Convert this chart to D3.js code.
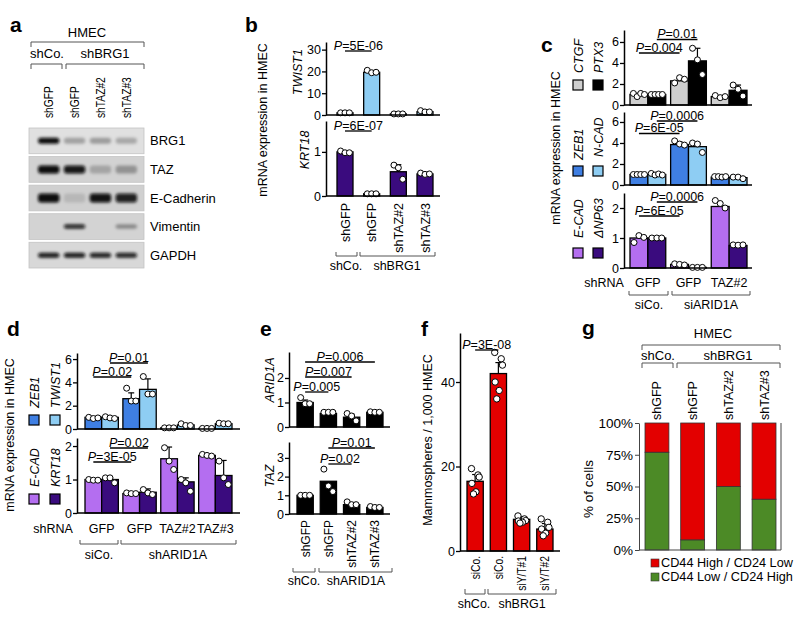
<!DOCTYPE html>
<html><head><meta charset="utf-8">
<script src="https://cdn.jsdelivr.net/npm/d3@7"></script>
<style>
body{margin:0;background:#fff;}
svg text{font-family:"Liberation Sans",Arial,Helvetica,sans-serif;}
</style></head><body>
<svg id="fig" width="800" height="635"></svg>
<script>
// ================= DATA =================
// Panel a (western blot)
const aLanes = ["shGFP","shGFP","shTAZ#2","shTAZ#3"];
const aProteins = ["BRG1","TAZ","E-Cadherin","Vimentin","GAPDH"];
const aBandIntensity = [
  [1.0,0.28,0.3,0.25],
  [1.0,0.95,0.22,0.3],
  [1.0,0.12,0.97,0.9],
  [0.0,0.85,0.0,0.35],
  [0.92,0.92,0.9,0.88]
];
// Panel b
const bLanes = ["shGFP","shGFP","shTAZ#2","shTAZ#3"];
const bTWIST1 = [1.0,19.6,0.5,1.5];
const bTWIST1sd = [0.1,0.6,0.1,0.4];
const bTWIST1dots = [[1.0,1.0,1.0],[20.5,19.4,19.6],[0.5,0.5,0.5],[2.0,1.4,1.4]];
const bKRT18 = [1.0,0.05,0.55,0.5];
const bKRT18sd = [0.02,0.01,0.16,0.02];
const bKRT18dots = [[1.02,0.98,0.98],[0.05,0.05,0.05],[0.7,0.64,0.38],[0.52,0.49,0.5]];
// Panel c
const cGroups = ["GFP","GFP","TAZ#2"];
const cCTGF = [1.0,2.3,0.8];      const cCTGFsd = [0.12,0.2,0.08];
const cCTGFdots = [[1.1,0.8,1.1,1.0],[2.1,2.6,2.45],[0.9,0.7,0.8]];
const cPTX3 = [1.0,4.2,1.4];      const cPTX3sd = [0.05,1.2,0.5];
const cPTX3dots = [[1.0,1.0,1.0,1.0],[5.4,4.3,2.9],[1.9,1.5,0.85]];
const cZEB1 = [1.0,3.85,0.75];    const cZEB1sd = [0.05,0.25,0.04];
const cZEB1dots = [[1.0,1.0,1.0,1.0],[4.2,3.9,3.8],[0.8,0.8,0.75,0.8]];
const cNCAD = [1.0,3.65,0.7];     const cNCADsd = [0.06,0.35,0.05];
const cNCADdots = [[1.1,0.95,1.05,0.95],[4.0,3.9,3.1],[0.75,0.75,0.6]];
const cECAD = [1.0,0.12,2.05];    const cECADsd = [0.1,0.02,0.12];
const cECADdots = [[0.85,1.08,1.02],[0.14,0.12,0.1],[2.25,2.15,2.0]];
const cDNP63 = [1.0,0.02,0.75];   const cDNP63sd = [0.01,0,0.02];
const cDNP63dots = [[1.0,1.0,1.0],[0.02,0.02,0.02],[0.77,0.76,0.77]];
// Panel d
const dGroups = ["GFP","GFP","TAZ#2","TAZ#3"];
const dZEB1 = [1.0,2.6,0.1,0.05];     const dZEB1sd = [0.05,0.5,0.01,0.01];
const dZEB1dots = [[1.0,0.9,0.95],[3.5,2.4,2.4],[0.1,0.1,0.1],[0.05,0.05,0.05]];
const dTWIST1 = [1.0,3.4,0.35,0.45];  const dTWIST1sd = [0.05,0.9,0.1,0.05];
const dTWIST1dots = [[1.05,0.95,0.9],[4.5,3.0,3.0],[0.45,0.3,0.3],[0.5,0.45,0.45]];
const dECAD = [1.0,0.58,1.62,1.72];   const dECADsd = [0.02,0.02,0.35,0.04];
const dECADdots = [[1.0,0.98,0.98],[0.6,0.58,0.58],[1.95,1.55,1.3],[1.75,1.72,1.7]];
const dKRT18 = [1.0,0.62,0.93,1.12];  const dKRT18sd = [0.05,0.1,0.12,0.45];
const dKRT18dots = [[1.05,1.05,0.9],[0.7,0.6,0.55],[1.0,0.9,0.65],[1.55,1.05,0.85]];
// Panel e
const eLanes = ["shGFP","shGFP","shTAZ#2","shTAZ#3"];
const eARID1A = [1.0,0.55,0.4,0.6];   const eARID1Asd = [0.1,0.02,0.12,0.02];
const eARID1Adots = [[1.2,0.95,0.95],[0.6,0.6,0.6],[0.55,0.45,0.25],[0.62,0.6,0.6]];
const eTAZ = [1.0,1.75,0.5,0.35];     const eTAZsd = [0,0,0,0];
const eTAZdots = [[1.0,1.0,1.0],[2.4,1.5,1.2],[0.65,0.5,0.5],[0.4,0.35,0.35]];
// Panel f
const fLanes = ["siCo.","siCo.","siY/T#1","siY/T#2"];
const fVals = [16.5,42,7.5,5.2];
const fSd = [1.6,2.6,0.6,1.3];
const fDots = [[19.5,18,17.5,16,14,13.5],[47,45.5,44,40,38,36],[8.3,7.6,7.2,7.1,6.8,6.6],[7.6,6.8,5.6,5.2,4.2,3.6]];
// Panel g
const gLanes = ["shGFP","shGFP","shTAZ#2","shTAZ#3"];
const gLowHigh = [77,8,50,40];   // CD44 Low / CD24 High (%)
const gHighLow = [23,92,50,60];  // CD44 High / CD24 Low (%)
const gTicks = [0,25,50,75,100];

// ================= HELPERS =================
const FS = 12.5;
const svg = d3.select("#fig");
svg.append("rect").attr("width",800).attr("height",635).attr("fill","#fff");
const defs = svg.append("defs");
defs.append("filter").attr("id","blur").attr("x","-50%").attr("y","-150%").attr("width","200%").attr("height","400%")
  .append("feGaussianBlur").attr("stdDeviation",1.5);

function txt(g,x,y,s,o={}){
  const t=g.append("text").attr("x",x).attr("y",y).text(s)
    .attr("font-size",o.size||FS).attr("text-anchor",o.anchor||"start").attr("fill",o.fill||"#000");
  if(o.italic) t.attr("font-style","italic");
  if(o.bold) t.attr("font-weight","bold");
  if(o.rot) t.attr("transform",`rotate(-90,${x},${y})`);
  if(o.squeeze){
    const L=t.node().getComputedTextLength();
    t.attr("textLength",L*o.squeeze).attr("lengthAdjust","spacingAndGlyphs");
  }
  return t;
}
function bracket(g,x1,x2,y,h){
  g.append("path").attr("d",`M${x1},${y+h}V${y}H${x2}V${y+h}`).attr("fill","none").attr("stroke","#555").attr("stroke-width",1);
}
function pval(g,x1,x2,y,label){
  g.append("line").attr("x1",x1).attr("x2",x2).attr("y1",y).attr("y2",y).attr("stroke","#000").attr("stroke-width",1.3);
  const t=g.append("text").attr("x",(x1+x2)/2).attr("y",y-1.2).attr("text-anchor","middle").attr("font-size",FS);
  t.append("tspan").attr("font-style","italic").text("P");
  t.append("tspan").text("="+label);
}
function dotOffsets(n,w){
  const pats={1:[0],2:[-0.4,0.4],3:[-0.55,0,0.55],4:[-0.62,-0.2,0.2,0.62],6:[-0.45,0.35,0.5,-0.4,0.1,-0.2]};
  return (pats[n]||d3.range(n).map(i=>-0.6+1.2*i/(n-1))).map(f=>f*w/2);
}
function styleAxis(ax){
  ax.attr("font-family",null).attr("font-size",null);
  ax.select(".domain").attr("stroke-width",1.5);
  ax.selectAll(".tick line").attr("stroke-width",1.3);
  ax.selectAll(".tick text").attr("font-size",FS).attr("fill","#000");
}
function barSub(g,o){
  const ns=o.series.length;
  const sub=d3.scaleBand().domain(d3.range(ns)).range([0,o.xBand.bandwidth()]);
  const bw=sub.bandwidth();
  const cx=(i,si)=>o.xBand(i)+sub(si)+bw/2;
  o.series.forEach((s,si)=>{
    const gs=g.append("g");
    gs.selectAll("rect").data(s.values).join("rect")
      .attr("x",(d,i)=>o.xBand(i)+sub(si)).attr("width",bw)
      .attr("y",d=>o.y(d)).attr("height",d=>Math.max(0,o.y(0)-o.y(d)))
      .attr("fill",s.color).attr("stroke","#000").attr("stroke-width",1.3);
    if(s.sd) s.values.forEach((v,i)=>{
      const sd=s.sd[i]; if(!sd) return;
      const x=cx(i,si),y1=o.y(v),y2=o.y(v+sd);
      gs.append("line").attr("x1",x).attr("x2",x).attr("y1",y1).attr("y2",y2).attr("stroke","#000").attr("stroke-width",1.2);
      gs.append("line").attr("x1",x-3).attr("x2",x+3).attr("y1",y2).attr("y2",y2).attr("stroke","#000").attr("stroke-width",1.2);
    });
    if(s.dots) s.dots.forEach((arr,i)=>{
      const offs=dotOffsets(arr.length,bw);
      gs.append("g").selectAll("circle").data(arr).join("circle")
        .attr("cx",(d,k)=>cx(i,si)+offs[k]).attr("cy",d=>o.y(d)).attr("r",o.r||3)
        .attr("fill","#fff").attr("stroke","#000").attr("stroke-width",1);
    });
  });
  const ax=g.append("g").attr("transform",`translate(${o.axisX},0)`)
    .call(d3.axisLeft(o.y).tickValues(o.ticks).tickSize(4).tickSizeOuter(0).tickPadding(1).tickFormat(o.fmt||(d=>d)));
  styleAxis(ax);
  g.append("line").attr("x1",o.axisX).attr("x2",o.axisEnd).attr("y1",o.y(0)).attr("y2",o.y(0)).attr("stroke","#000").attr("stroke-width",1.5);
  return cx;
}
function legendSq(g,x,y,color){
  g.append("rect").attr("x",x).attr("y",y).attr("width",10).attr("height",10).attr("fill",color).attr("stroke","#000").attr("stroke-width",1.2);
}
const COL={ltblue:"#8ecdf3",blue:"#3f7fe3",purple:"#b46ef0",indigo:"#3a0b7e",grey:"#cfcfcf",red:"#e30000",green:"#4c8a26"};

// ================= PANEL A =================
(function(){
  const g=svg.append("g");
  txt(g,10,32,"a",{size:21,bold:true});
  txt(g,87,37,"HMEC",{anchor:"middle",size:13});
  bracket(g,31,144,42,5);
  txt(g,47,58,"shCo.",{anchor:"middle",size:13});
  txt(g,105,58,"shBRG1",{anchor:"middle",size:13});
  bracket(g,31,62,64,5); bracket(g,66,144,64,5);
  const x=d3.scaleBand().domain(d3.range(aLanes.length)).range([39,136]).paddingInner(0.25);
  aLanes.forEach((l,i)=>txt(g,x(i)+x.bandwidth()/2+4.5,118,l,{rot:true,size:12.5,squeeze:0.82}));
  const rows=d3.scaleBand().domain(d3.range(aProteins.length)).range([128,268]).paddingInner(0.1);
  const rowBg=["#e0e0e0","#d2d2d2","#d0d0d0","#d3d3d3","#d8d8d8"];
  const bandH=[6,8,9,4.5,5];
  aProteins.forEach((p,r)=>{
    g.append("rect").attr("x",29).attr("y",rows(r)).attr("width",115).attr("height",rows.bandwidth())
      .attr("fill",rowBg[r]).attr("stroke","#c4c4c4").attr("stroke-width",0.8);
    const cy=rows(r)+rows.bandwidth()/2;
    g.append("g").attr("filter","url(#blur)").selectAll("rect").data(aBandIntensity[r]).join("rect")
      .attr("x",(d,i)=>x(i)-1).attr("width",x.bandwidth()+2)
      .attr("y",cy-bandH[r]/2).attr("height",bandH[r]).attr("rx",3)
      .attr("fill","#0a0a0a").attr("fill-opacity",d=>d);
    txt(g,150,cy+4.5,p,{size:13});
  });
})();

// ================= PANEL B =================
(function(){
  const g=svg.append("g");
  txt(g,245,32,"b",{size:21,bold:true});
  txt(g,267,120,"mRNA expression in HMEC",{rot:true,anchor:"middle"});
  const x=d3.scaleBand().domain(d3.range(bLanes.length)).range([337,433]).paddingInner(0.4);
  const y1=d3.scaleLinear().domain([0,33.5]).range([115,42]);
  const cx=barSub(g,{xBand:x,y:y1,axisX:326,axisEnd:440,ticks:[0,10,20,30],
    series:[{values:bTWIST1,sd:bTWIST1sd,dots:bTWIST1dots,color:COL.ltblue}]});
  const y2=d3.scaleLinear().domain([0,1.7]).range([196,121]);
  barSub(g,{xBand:x,y:y2,axisX:326,axisEnd:440,ticks:[0,1],
    series:[{values:bKRT18,sd:bKRT18sd,dots:bKRT18dots,color:COL.indigo}]});
  txt(g,302,72,"TWIST1",{rot:true,anchor:"middle",italic:true});
  txt(g,309,150,"KRT18",{rot:true,anchor:"middle",italic:true});
  pval(g,cx(0,0),cx(1,0),51,"5E-06");
  pval(g,cx(0,0),cx(1,0),131,"6E-07");
  bLanes.forEach((l,i)=>txt(g,cx(i,0)+4.5,203,l,{rot:true,anchor:"end"}));
  bracket(g,336,357,256,-4); bracket(g,360,435,256,-4);
  txt(g,346,270,"shCo.",{anchor:"middle"});
  txt(g,397,270,"shBRG1",{anchor:"middle"});
})();

// ================= PANEL C =================
(function(){
  const g=svg.append("g");
  txt(g,541,52,"c",{size:21,bold:true});
  txt(g,560,148,"mRNA expression in HMEC",{rot:true,anchor:"middle"});
  const x=d3.scaleBand().domain(d3.range(cGroups.length)).range([630,747]).paddingInner(0.12);
  const y1=d3.scaleLinear().domain([0,7.14]).range([105,30]);
  const cx=barSub(g,{xBand:x,y:y1,axisX:624,axisEnd:752,ticks:[0,2,4,6],
    series:[{values:cCTGF,sd:cCTGFsd,dots:cCTGFdots,color:COL.grey},{values:cPTX3,sd:cPTX3sd,dots:cPTX3dots,color:"#000"}]});
  const y2=d3.scaleLinear().domain([0,6.95]).range([185,112]);
  barSub(g,{xBand:x,y:y2,axisX:624,axisEnd:752,ticks:[0,2,4,6],
    series:[{values:cZEB1,sd:cZEB1sd,dots:cZEB1dots,color:COL.blue},{values:cNCAD,sd:cNCADsd,dots:cNCADdots,color:COL.ltblue}]});
  const y3=d3.scaleLinear().domain([0,2.5]).range([268,193]);
  barSub(g,{xBand:x,y:y3,axisX:624,axisEnd:752,ticks:[0,1,2],
    series:[{values:cECAD,sd:cECADsd,dots:cECADdots,color:COL.purple},{values:cDNP63,sd:cDNP63sd,dots:cDNP63dots,color:COL.indigo}]});
  pval(g,cx(0,1),cx(1,1),39.5,"0.01"); pval(g,cx(0,0),cx(1,0),53,"0.004");
  pval(g,cx(0,1),cx(1,1),121,"0.0006"); pval(g,cx(0,0),cx(1,0),133.5,"6E-05");
  pval(g,cx(0,1),cx(1,1),202,"0.0006"); pval(g,cx(0,0),cx(1,0),216,"6E-05");
  // legends
  legendSq(g,573,80,COL.grey); legendSq(g,593,80,"#000");
  txt(g,583,73,"CTGF",{rot:true,italic:true}); txt(g,603,73,"PTX3",{rot:true,italic:true});
  legendSq(g,573,166,COL.blue); legendSq(g,593,166,COL.ltblue);
  txt(g,583,160,"ZEB1",{rot:true,italic:true}); txt(g,603,157,"N-CAD",{rot:true,italic:true});
  legendSq(g,573,248,COL.purple); legendSq(g,593,248,COL.indigo);
  txt(g,583,238,"E-CAD",{rot:true,italic:true}); txt(g,603,238,"\u0394NP63",{rot:true,italic:true});
  txt(g,604,287,"shRNA",{anchor:"middle"});
  cGroups.forEach((l,i)=>txt(g,x(i)+x.bandwidth()/2,287,l,{anchor:"middle"}));
  bracket(g,629,668,295,-4); bracket(g,672,750,295,-4);
  txt(g,649,309,"siCo.",{anchor:"middle"});
  txt(g,711,309,"siARID1A",{anchor:"middle"});
})();

// ================= PANEL D =================
(function(){
  const g=svg.append("g");
  txt(g,7,336,"d",{size:21,bold:true});
  txt(g,14,435,"mRNA expression in HMEC",{rot:true,anchor:"middle"});
  const x=d3.scaleBand().domain(d3.range(dGroups.length)).range([85,232]).paddingInner(0.12);
  const y1=d3.scaleLinear().domain([0,6.52]).range([429,353]);
  const cx=barSub(g,{xBand:x,y:y1,axisX:77,axisEnd:240,ticks:[0,2,4,6],
    series:[{values:dZEB1,sd:dZEB1sd,dots:dZEB1dots,color:COL.blue},{values:dTWIST1,sd:dTWIST1sd,dots:dTWIST1dots,color:COL.ltblue}]});
  const y2=d3.scaleLinear().domain([0,2.24]).range([513,438]);
  barSub(g,{xBand:x,y:y2,axisX:77,axisEnd:240,ticks:[0,1,2],
    series:[{values:dECAD,sd:dECADsd,dots:dECADdots,color:COL.purple},{values:dKRT18,sd:dKRT18sd,dots:dKRT18dots,color:COL.indigo}]});
  pval(g,cx(0,1),cx(1,1),363,"0.01"); pval(g,cx(0,0),cx(1,0),377,"0.02");
  pval(g,cx(0,1),cx(1,1),448,"0.02"); pval(g,cx(0,0),cx(1,0),462,"3E-05");
  legendSq(g,29,415,COL.blue); legendSq(g,50,415,COL.ltblue);
  txt(g,39,408,"ZEB1",{rot:true,italic:true}); txt(g,60,408,"TWIST1",{rot:true,italic:true});
  legendSq(g,29,494,COL.purple); legendSq(g,50,494,COL.indigo);
  txt(g,39,487,"E-CAD",{rot:true,italic:true}); txt(g,60,487,"KRT18",{rot:true,italic:true});
  txt(g,53,533,"shRNA",{anchor:"middle"});
  dGroups.forEach((l,i)=>txt(g,x(i)+x.bandwidth()/2,533,l,{anchor:"middle"}));
  bracket(g,80,118,544,-4); bracket(g,121,236,544,-4);
  txt(g,99,559,"siCo.",{anchor:"middle"});
  txt(g,178,559,"shARID1A",{anchor:"middle"});
})();

// ================= PANEL E =================
(function(){
  const g=svg.append("g");
  txt(g,260,336,"e",{size:21,bold:true});
  const x=d3.scaleBand().domain(d3.range(eLanes.length)).range([297,383]).paddingInner(0.3);
  const y1=d3.scaleLinear().domain([0,3.06]).range([427,352]);
  const cx=barSub(g,{xBand:x,y:y1,axisX:289,axisEnd:390,ticks:[0,1,2],
    series:[{values:eARID1A,sd:eARID1Asd,dots:eARID1Adots,color:"#000"}]});
  const y2=d3.scaleLinear().domain([0,3.85]).range([514,442]);
  barSub(g,{xBand:x,y:y2,axisX:289,axisEnd:390,ticks:[0,1,2,3],
    series:[{values:eTAZ,sd:eTAZsd,dots:eTAZdots,color:"#000"}]});
  txt(g,274,380,"ARID1A",{rot:true,anchor:"middle",italic:true});
  txt(g,274,476,"TAZ",{rot:true,anchor:"middle",italic:true});
  pval(g,cx(0,0),cx(3,0),362,"0.006"); pval(g,cx(0,0),cx(2,0),377,"0.007"); pval(g,cx(0,0),cx(1,0),392,"0.005");
  pval(g,cx(1,0),cx(3,0),448,"0.01"); pval(g,cx(1,0),cx(2,0),464,"0.02");
  eLanes.forEach((l,i)=>txt(g,cx(i,0)+4.5,520,l,{rot:true,anchor:"end",size:12}));
  bracket(g,293,315,572,-4); bracket(g,319,392,572,-4);
  txt(g,304,585,"shCo.",{anchor:"middle"});
  txt(g,356,585,"shARID1A",{anchor:"middle"});
})();

// ================= PANEL F =================
(function(){
  const g=svg.append("g");
  txt(g,421,336,"f",{size:21,bold:true});
  txt(g,432,440,"Mammospheres / 1,000 HMEC",{rot:true,anchor:"middle"});
  const x=d3.scaleBand().domain(d3.range(fLanes.length)).range([467,553]).paddingInner(0.3);
  const y=d3.scaleLinear().domain([0,51.6]).range([551,333]);
  const cx=barSub(g,{xBand:x,y:y,axisX:460,axisEnd:560,ticks:[0,20,40],r:3.2,
    series:[{values:fVals,sd:fSd,dots:fDots,color:COL.red}]});
  pval(g,cx(0,0),cx(1,0),350,"3E-08");
  fLanes.forEach((l,i)=>txt(g,cx(i,0)+4.5,556,l,{rot:true,anchor:"end",size:12.5,squeeze:0.82}));
  bracket(g,465,485,594,-5); bracket(g,488,556,594,-5);
  txt(g,474,608,"shCo.",{anchor:"middle"});
  txt(g,522,608,"shBRG1",{anchor:"middle"});
})();

// ================= PANEL G =================
(function(){
  const g=svg.append("g");
  txt(g,582,335,"g",{size:21,bold:true});
  txt(g,713,338,"HMEC",{anchor:"middle",size:13});
  bracket(g,642,780,345,5);
  txt(g,658,360,"shCo.",{anchor:"middle",size:13});
  txt(g,728,360,"shBRG1",{anchor:"middle",size:13});
  bracket(g,642,673,363,5); bracket(g,677,780,363,5);
  const x=d3.scaleBand().domain(d3.range(gLanes.length)).range([645,776]).paddingInner(0.33);
  const y=d3.scaleLinear().domain([0,100]).range([550,423]);
  gLanes.forEach((l,i)=>txt(g,x(i)+x.bandwidth()/2+4.5,420,l,{rot:true,size:12.5}));
  g.selectAll("rect.lo").data(gLowHigh).join("rect").attr("class","lo")
    .attr("x",(d,i)=>x(i)).attr("width",x.bandwidth()).attr("y",d=>y(d)).attr("height",d=>y(0)-y(d))
    .attr("fill",COL.green).attr("stroke","#333").attr("stroke-width",0.8);
  g.selectAll("rect.hi").data(gHighLow).join("rect").attr("class","hi")
    .attr("x",(d,i)=>x(i)).attr("width",x.bandwidth()).attr("y",(d,i)=>y(gLowHigh[i]+d)).attr("height",d=>y(0)-y(d))
    .attr("fill",COL.red).attr("stroke","#333").attr("stroke-width",0.8);
  const ax=g.append("g").attr("transform","translate(639,0)")
    .call(d3.axisLeft(y).tickValues(gTicks).tickSize(4).tickSizeOuter(0).tickPadding(2).tickFormat(d=>d+"%"));
  ax.attr("font-family",null).attr("font-size",null);
  ax.select(".domain").attr("stroke","#444").attr("stroke-width",1);
  ax.selectAll(".tick line").attr("stroke","#444");
  ax.selectAll(".tick text").attr("font-size",13.5).attr("fill","#000");
  g.append("line").attr("x1",781).attr("x2",781).attr("y1",y(100)).attr("y2",y(0)).attr("stroke","#444");
  g.append("line").attr("x1",639).attr("x2",781).attr("y1",y(0)).attr("y2",y(0)).attr("stroke","#444");
  txt(g,593,489,"% of cells",{rot:true,anchor:"middle",size:13.5});
  const legendLabels=["CD44 High / CD24 Low","CD44 Low / CD24 High"];
  const legendCols=[COL.red,COL.green];
  legendLabels.forEach((l,i)=>{
    g.append("rect").attr("x",651).attr("y",559+i*14).attr("width",8).attr("height",8).attr("fill",legendCols[i]).attr("stroke","#333").attr("stroke-width",0.6);
    txt(g,661,567+i*14,l,{size:12.7});
  });
})();
</script>
</body></html>
